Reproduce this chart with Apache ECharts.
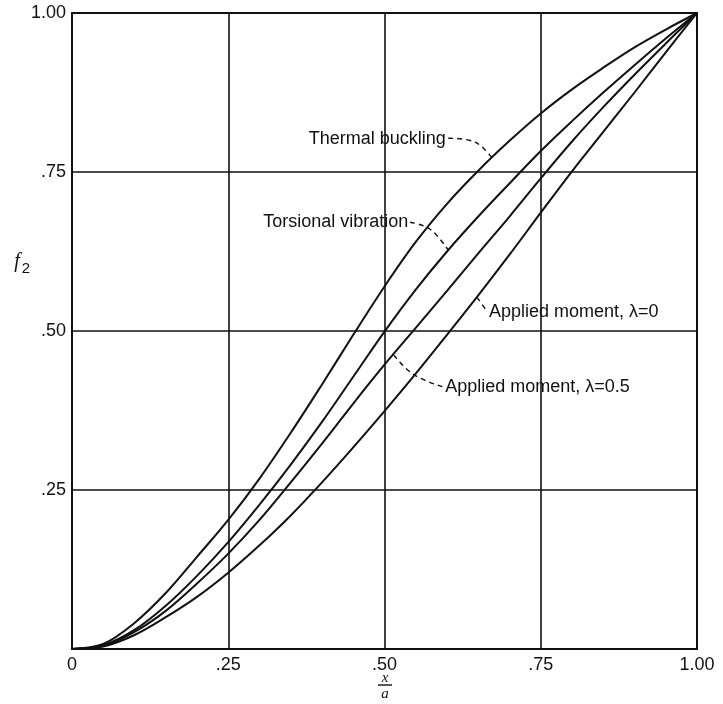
<!DOCTYPE html>
<html>
<head>
<meta charset="utf-8">
<script src="https://cdn.jsdelivr.net/npm/echarts@6/dist/echarts.min.js"></script>
<style>
    html, body { margin: 0; padding: 0; background: #fff; }
    #chart { width: 723px; height: 704px; }
</style>
</head>
<body>
<div id="chart"></div>
<script>
// x/a stations
var xs = [0, 0.05, 0.1, 0.15, 0.2, 0.25, 0.3, 0.35, 0.4, 0.45, 0.5,
          0.55, 0.6, 0.65, 0.7, 0.75, 0.8, 0.85, 0.9, 0.95, 1.0];

// f2 values for each curve
var thermalBuckling = [0, 0.008, 0.041, 0.088, 0.145, 0.203, 0.268, 0.340, 0.416, 0.494, 0.570,
                       0.640, 0.700, 0.752, 0.799, 0.842, 0.880, 0.914, 0.946, 0.974, 1.0];
var torsionalVibration = [0, 0.006, 0.030, 0.068, 0.115, 0.168, 0.227, 0.290, 0.357, 0.428, 0.499,
                          0.565, 0.625, 0.680, 0.732, 0.783, 0.830, 0.875, 0.918, 0.960, 1.0];
var appliedMoment05 = [0, 0.005, 0.027, 0.060, 0.103, 0.150, 0.203, 0.262, 0.323, 0.386, 0.447,
                       0.505, 0.563, 0.622, 0.680, 0.740, 0.798, 0.852, 0.903, 0.952, 1.0];
var appliedMoment0 = [0, 0.004, 0.022, 0.050, 0.082, 0.120, 0.163, 0.210, 0.262, 0.317, 0.374,
                      0.433, 0.494, 0.556, 0.620, 0.686, 0.751, 0.813, 0.875, 0.938, 1.0];

var xTickValues = [0, 0.25, 0.5, 0.75, 1.0];
var xTickLabels = ['0', '.25', '.50', '.75', '1.00'];
var yTickValues = [0, 0.25, 0.5, 0.75, 1.0];
var yTickLabels = ['', '.25', '.50', '.75', '1.00'];

var FONT = 'Liberation Sans';

function pairs(ys) {
    return xs.map(function (x, i) { return [x, ys[i]]; });
}
function tickLabel(values, labels) {
    return function (v) {
        for (var i = 0; i < values.length; i++) {
            if (Math.abs(values[i] - v) < 1e-6) return labels[i];
        }
        return '';
    };
}
function curve(name, ys) {
    return {
        name: name,
        type: 'line',
        data: pairs(ys),
        smooth: 0.35,
        showSymbol: false,
        silent: true,
        lineStyle: { color: '#111', width: 2 }
    };
}

var chart = echarts.init(document.getElementById('chart'));

chart.setOption({
    animation: false,
    backgroundColor: '#fff',
    grid: {
        left: 72, right: 26, top: 13, bottom: 55,
        show: true, borderColor: '#111', borderWidth: 2
    },
    xAxis: {
        type: 'value', min: 0, max: 1, interval: 0.25,
        axisLine: { show: false },
        axisTick: { show: false },
        axisLabel: {
            formatter: tickLabel(xTickValues, xTickLabels),
            color: '#111', fontSize: 18, fontFamily: FONT, margin: 7
        },
        splitLine: { lineStyle: { color: '#111', width: 1.6 } }
    },
    yAxis: {
        type: 'value', min: 0, max: 1, interval: 0.25,
        axisLine: { show: false },
        axisTick: { show: false },
        axisLabel: {
            formatter: tickLabel(yTickValues, yTickLabels),
            color: '#111', fontSize: 18, fontFamily: FONT, margin: 6
        },
        splitLine: { lineStyle: { color: '#111', width: 1.6 } }
    },
    series: [
        curve('Thermal buckling', thermalBuckling),
        curve('Torsional vibration', torsionalVibration),
        curve('Applied moment, λ=0.5', appliedMoment05),
        curve('Applied moment, λ=0', appliedMoment0)
    ]
});

// annotations: label anchor + dashed leader, in data coordinates
var notes = [
    { text: 'Thermal buckling', at: [0.598, 0.802], align: 'right',
      leader: [[0.602, 0.803], [0.645, 0.797], [0.672, 0.772]] },
    { text: 'Torsional vibration', at: [0.538, 0.671], align: 'right',
      leader: [[0.541, 0.671], [0.573, 0.660], [0.602, 0.627]] },
    { text: 'Applied moment, \u03bb=0', at: [0.667, 0.530], align: 'left',
      leader: [[0.648, 0.553], [0.664, 0.531]] },
    { text: 'Applied moment, \u03bb=0.5', at: [0.597, 0.412], align: 'left',
      leader: [[0.515, 0.462], [0.546, 0.432], [0.594, 0.412]] }
];

function px(p) { return chart.convertToPixel({ gridIndex: 0 }, p); }

var graphics = [];
notes.forEach(function (n) {
    var a = px(n.at);
    graphics.push({
        type: 'text', x: a[0], y: a[1], silent: true,
        style: {
            text: n.text, fill: '#111', font: '18px "' + FONT + '"',
            textAlign: n.align, textVerticalAlign: 'middle'
        }
    });
    graphics.push({
        type: 'polyline', silent: true,
        shape: { points: n.leader.map(px), smooth: 0.4 },
        style: { stroke: '#111', lineWidth: 1.4, lineDash: [5, 4], fill: null }
    });
});

// axis titles: f2 and x/a
graphics.push(
    { type: 'text', x: 17, y: 262, silent: true,
      style: { text: 'f', fill: '#111', font: 'italic 20px "Liberation Serif"',
               textAlign: 'center', textVerticalAlign: 'middle' } },
    { type: 'text', x: 26, y: 269, silent: true,
      style: { text: '2', fill: '#111', font: '15px "' + FONT + '"',
               textAlign: 'center', textVerticalAlign: 'middle' } },
    { type: 'text', x: 385, y: 678, silent: true,
      style: { text: 'x', fill: '#111', font: 'italic 15px "Liberation Serif"',
               textAlign: 'center', textVerticalAlign: 'middle' } },
    { type: 'line', silent: true,
      shape: { x1: 378, y1: 685, x2: 392, y2: 685 },
      style: { stroke: '#111', lineWidth: 1.4 } },
    { type: 'text', x: 385, y: 694, silent: true,
      style: { text: 'a', fill: '#111', font: 'italic 15px "Liberation Serif"',
               textAlign: 'center', textVerticalAlign: 'middle' } }
);

chart.setOption({ graphic: graphics });
</script>
</body>
</html>
